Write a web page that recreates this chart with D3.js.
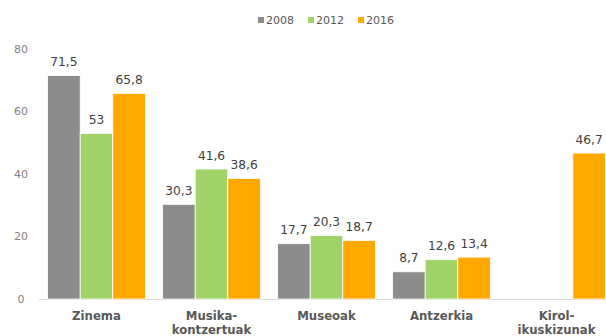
<!DOCTYPE html>
<html>
<head>
<meta charset="utf-8">
<script src="https://cdn.jsdelivr.net/npm/d3@7"></script>
<style>
  html, body { margin: 0; padding: 0; background: #fff; }
  svg { display: block; }
</style>
</head>
<body>
<svg id="chart" width="606" height="336"></svg>
<script>
// Categories, series and their values
const categories = ["Zinema", "Musika-\nkontzertuak", "Museoak", "Antzerkia", "Kirol-\nikuskizunak"];
const seriesNames = ["2008", "2012", "2016"];
const values2008 = [71.5, 30.3, 17.7, 8.7, null];
const values2012 = [53, 41.6, 20.3, 12.6, null];
const values2016 = [65.8, 38.6, 18.7, 13.4, 46.7];
const yTicks = [0, 20, 40, 60, 80];
const colors = ["#8c8c8c", "#a0d468", "#ffa800"];

const seriesValues = [values2008, values2012, values2016];
const svg = d3.select("#chart");

const x0 = d3.scaleBand().domain(categories).range([39, 614]).paddingInner(0.15).paddingOuter(0.075);
const x1 = d3.scaleBand().domain(seriesNames).range([0, x0.bandwidth()]);
const y = d3.scaleLinear().domain([0, 80]).range([299, 49]);

// y-axis tick labels
svg.append("g").selectAll("text").data(yTicks).join("text")
  .attr("x", 21).attr("y", d => y(d)).attr("dy", "0.35em")
  .attr("text-anchor", "middle")
  .attr("font-family", "DejaVu Sans, Verdana, sans-serif")
  .attr("font-size", 11).attr("fill", "#7f7f7f")
  .text(d => d);

// baseline
svg.append("line").attr("x1", 39).attr("x2", 606)
  .attr("y1", y(0) + 0.5).attr("y2", y(0) + 0.5)
  .attr("stroke", "#d9d9d9").attr("stroke-width", 1);

// bars and value labels
const rows = [];
categories.forEach((c, i) => seriesNames.forEach((s, j) => {
  const v = seriesValues[j][i];
  if (v != null) rows.push({ c, s, v, color: colors[j] });
}));

svg.append("g").selectAll("rect").data(rows).join("rect")
  .attr("x", d => x0(d.c) + x1(d.s))
  .attr("y", d => y(d.v))
  .attr("width", x1.bandwidth())
  .attr("height", d => y(0) - y(d.v))
  .attr("fill", d => d.color)
  .attr("stroke", "#fff").attr("stroke-width", 0.8);

const fmt = v => String(v).replace(".", ",");
svg.append("g").selectAll("text").data(rows).join("text")
  .attr("x", d => x0(d.c) + x1(d.s) + x1.bandwidth() / 2)
  .attr("y", d => y(d.v) - 9.5)
  .attr("text-anchor", "middle")
  .attr("font-family", "DejaVu Sans, Verdana, sans-serif")
  .attr("font-size", 12.2).attr("fill", "#404040")
  .text(d => fmt(d.v));

// category labels (two lines where hyphenated)
const catG = svg.append("g");
categories.forEach(c => {
  const t = catG.append("text")
    .attr("x", x0(c) + x0.bandwidth() / 2)
    .attr("y", 320)
    .attr("text-anchor", "middle")
    .attr("font-family", "Liberation Sans Narrow, DejaVu Sans Condensed, sans-serif")
    .attr("font-weight", "bold")
    .attr("font-size", 13).attr("fill", "#595959");
  c.split("\n").forEach((line, k) => {
    t.append("tspan").attr("x", x0(c) + x0.bandwidth() / 2)
      .attr("dy", k === 0 ? 0 : 14).text(line);
  });
});

// legend
const legend = svg.append("g");
seriesNames.forEach((s, j) => {
  const lx = 258 + j * 50;
  legend.append("rect").attr("x", lx).attr("y", 17).attr("width", 6).attr("height", 6)
    .attr("fill", colors[j]);
  legend.append("text").attr("x", lx + 8).attr("y", 20).attr("dy", "0.35em")
    .attr("font-family", "DejaVu Sans, Verdana, sans-serif")
    .attr("font-size", 11).attr("fill", "#595959").text(s);
});
</script>
</body>
</html>
